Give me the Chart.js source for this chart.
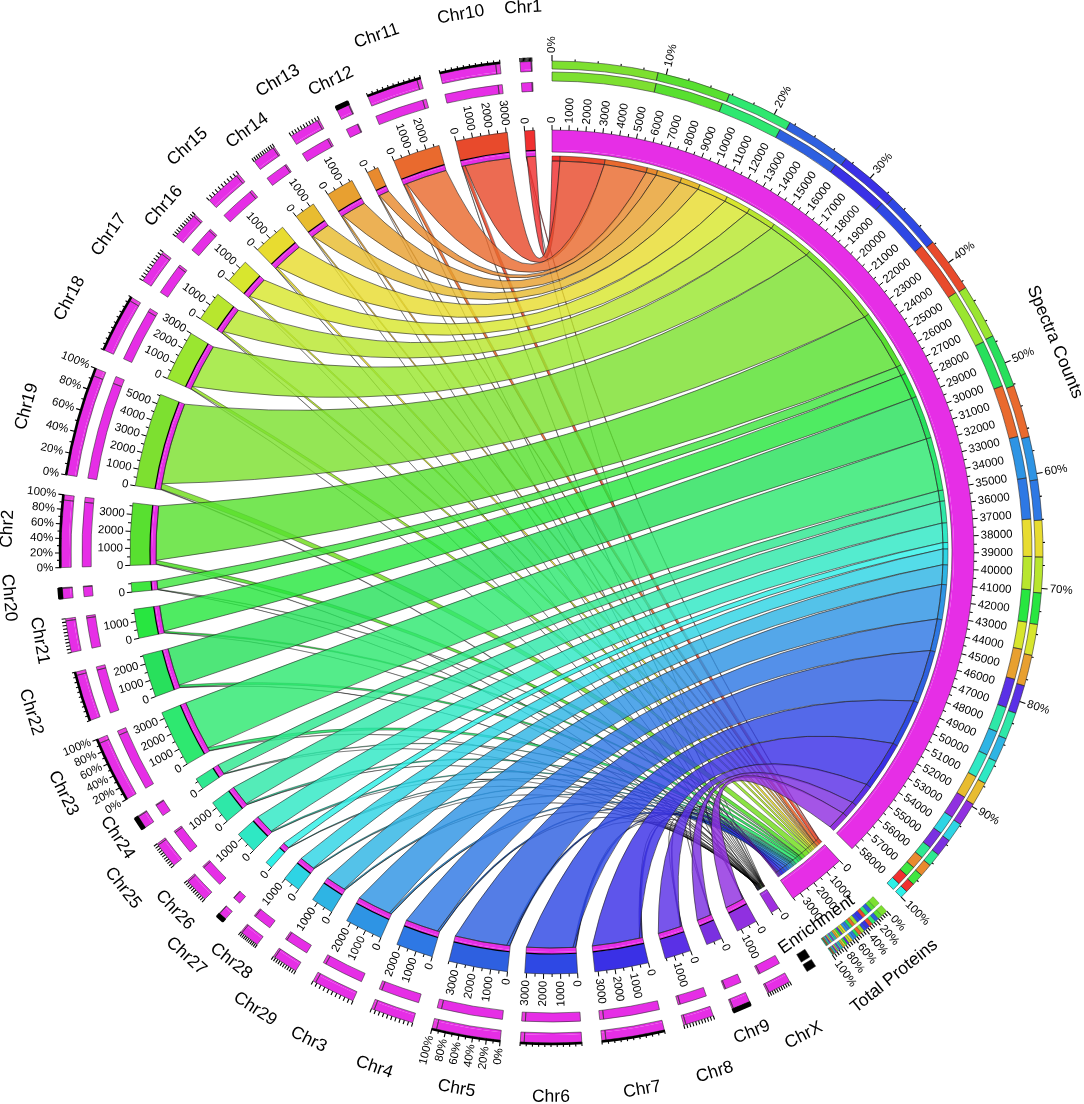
<!DOCTYPE html>
<html>
<head>
<meta charset="utf-8">
<title>Spectra counts by chromosome</title>
<script src="https://cdn.jsdelivr.net/npm/chart.js@4"></script>
<style>
  html, body { margin: 0; padding: 0; background: #fff; }
  canvas { display: block; }
</style>
</head>
<body>
<canvas id="chord-chart" width="1084" height="1104" style="width:1084px;height:1104px"></canvas>
<script>
// chromosomes, clockwise from the end of the Total Proteins / Enrichment sectors
var chromLabels = ['ChrX', 'Chr9', 'Chr8', 'Chr7', 'Chr6', 'Chr5', 'Chr4', 'Chr3', 'Chr29', 'Chr28',
    'Chr27', 'Chr26', 'Chr25', 'Chr24', 'Chr23', 'Chr22', 'Chr21', 'Chr20', 'Chr2', 'Chr19',
    'Chr18', 'Chr17', 'Chr16', 'Chr15', 'Chr14', 'Chr13', 'Chr12', 'Chr11', 'Chr10', 'Chr1'];
var chromSizes = [1250, 950, 1560, 3200, 3110, 3500, 2200, 2250, 1340, 1040,
    430, 1300, 1380, 690, 3370, 2550, 1730, 560, 3680, 5580,
    3000, 1770, 1470, 1990, 1250, 1640, 690, 2810, 3070, 600];
var spectraCounts = [1200, 900, 1450, 3100, 3000, 3370, 2050, 2210, 1250, 1000,
    400, 1240, 1380, 680, 3380, 2730, 1600, 610, 3770, 5400,
    2800, 1820, 1590, 1870, 1220, 1580, 660, 2700, 2830, 500];
var proteinCounts = [70, 60, 100, 180, 170, 200, 130, 130, 80, 60,
    25, 70, 80, 40, 200, 150, 100, 30, 230, 340,
    170, 110, 90, 120, 70, 90, 40, 170, 190, 35];
var enrichmentCounts = [10, 8, 14, 30, 28, 32, 18, 20, 10, 8,
    3, 10, 12, 5, 30, 24, 14, 4, 34, 50,
    22, 14, 12, 18, 10, 12, 4, 24, 28, 4];
var chromColors = ['#9030e0', '#7a30e0', '#5a30e6', '#3a30e6', '#2e48e4', '#2e60e0', '#2e78e4', '#2e94e4', '#2eb4e4', '#2ed4e4',
    '#2ef0e8', '#2ee8c4', '#2ee8a8', '#2ee890', '#2ee870', '#28e05c', '#28e640', '#40e640', '#58e030', '#7de030',
    '#9ae630', '#b8e62e', '#d8e62e', '#e8dc30', '#e8bc30', '#e8a030', '#e88a2e', '#e96a2e', '#e84a2c', '#f03030'];

var gapValue = 1016;
var percentLabelled = ['Chr19', 'Chr2', 'Chr23', 'Chr5'];
var thickRim = ['Chr5', 'Chr6', 'Chr7', 'Chr10', 'Chr11', 'Chr18', 'Chr19', 'Chr2', 'Chr23', 'Chr22'];
var solidRim = ['Chr9', 'Chr12', 'Chr20', 'Chr24', 'Chr27'];
var shortLabels = ['Chr9', 'Chr12', 'Chr14', 'Chr16', 'Chr21', 'Chr24', 'Chr26', 'Chr28'];

var MAGENTA = '#e62ee6';
var TAB = 'transparent';

function sum(list) {
    return list.reduce(function (a, b) { return a + b; }, 0);
}

var sectors = [
    { name: 'Spectra Counts', kind: 'spectra', size: sum(spectraCounts) },
    { name: 'Total Proteins', kind: 'proteins', size: sum(proteinCounts) },
    { name: 'Enrichment', kind: 'enrichment', size: sum(enrichmentCounts) }
];
chromLabels.forEach(function (name, i) {
    sectors.push({ name: name, kind: 'chrom', size: chromSizes[i], index: i });
});

// sector order on the target rings runs Chr1 first, ChrX last
function reversedPieces(values) {
    var pieces = [];
    for (var i = values.length - 1; i >= 0; i--) {
        pieces.push([values[i], chromColors[i]]);
    }
    return pieces;
}

// stacked percent rings are sorted biggest share first
function sortedOrder(values) {
    return values.map(function (v, i) { return i; }).sort(function (a, b) { return values[b] - values[a]; });
}

function stacked(order, values, size) {
    var total = 0;
    order.forEach(function (i) { total += values[i]; });
    return order.map(function (i) { return [values[i] * size / total, chromColors[i]]; });
}

function chromPieces(s) {
    var rest = proteinCounts[s.index] + enrichmentCounts[s.index];
    return [[s.size - rest, MAGENTA], [rest, '#ea3ce0']];
}

function percentPieces(s, outer) {
    if (s.kind === 'spectra') {
        return stacked(sortedOrder(spectraCounts), outer ? spectraCounts : chromSizes, s.size);
    }
    if (s.kind === 'proteins') {
        return stacked(sortedOrder(proteinCounts), outer ? proteinCounts : chromSizes, s.size);
    }
    if (s.kind === 'enrichment') {
        return [[s.size, '#000']];
    }
    return chromPieces(s);
}

function ring(weight, piecesFor) {
    var values = [], colors = [], owners = [];
    sectors.forEach(function (s, k) {
        piecesFor(s).forEach(function (p) {
            values.push(p[0]);
            colors.push(p[1]);
            owners.push(p[1] === TAB ? -1 : k);
        });
        values.push(gapValue);
        colors.push(TAB);
        owners.push(-1);
    });
    return { data: values, backgroundColor: colors, owners: owners, borderWidth: 0, weight: weight };
}

function blank(s) { return [[s.size, TAB]]; }

var datasets = [
    ring(8, function (s) { return percentPieces(s, true); }),                                    // 491-483
    ring(2, function (s) { return s.kind === 'chrom' ? chromPieces(s) : blank(s); }),            // 483-481
    ring(1, blank),                                                                              // 481-480
    ring(9, function (s) { return s.kind === 'chrom' ? blank(s) : percentPieces(s, false); }),   // 480-471
    ring(1, blank),                                                                              // 471-470
    ring(9, function (s) { return s.kind === 'chrom' ? chromPieces(s) : blank(s); }),            // 470-461
    ring(39, blank),                                                                             // 461-422
    ring(20, function (s) {                                                                      // 422-402
        if (s.kind === 'chrom') return [[s.size, chromColors[s.index]]];
        return [[s.size, s.kind === 'enrichment' ? '#a030e0' : MAGENTA]];
    }),
    ring(2, function (s) {                                                                       // 402-400
        return [[s.size, s.kind === 'enrichment' ? '#a030e0' : MAGENTA]];
    }),
    ring(4, function (s) { return s.kind === 'chrom' ? [[s.size, MAGENTA]] : blank(s); }),       // 400-396
    ring(5, function (s) {                                                                       // 396-391
        if (s.kind === 'spectra') return reversedPieces(spectraCounts);
        if (s.kind === 'proteins') return reversedPieces(proteinCounts);
        if (s.kind === 'enrichment') return reversedPieces(enrichmentCounts);
        return blank(s);
    })
];

var circosPlugin = {
    id: 'circos',
    afterDatasetsDraw: function (chart) {
        var ctx = chart.ctx;
        var band = chart.getDatasetMeta(7).data;
        var first = band[0];
        var cx = first.x, cy = first.y;
        var spans = sectors.map(function (s, k) {
            var arc = band[k * 2];
            return { start: arc.startAngle, end: arc.endAngle, s: s };
        });
        var rBandOuter = first.outerRadius;
        var rBandInner = first.innerRadius;
        var rRingIn = chart.getDatasetMeta(9).data[0].innerRadius;      // 396
        var rTarget = chart.getDatasetMeta(10).data[0].innerRadius;     // 391
        var rRim = chart.getDatasetMeta(0).data[0].outerRadius;         // 491

        function at(span, value) {
            return span.start + (span.end - span.start) * value / span.s.size;
        }

        function control(a, b, r) {
            return [cx + r * 0.25 * (Math.cos(a) + Math.cos(b)), cy + r * 0.25 * (Math.sin(a) + Math.sin(b))];
        }

        function ribbon(a0, a1, t0, t1, color, alpha, edge, width) {
            var c1 = control(a1, t0, rTarget), c2 = control(t1, a0, rTarget);
            ctx.beginPath();
            ctx.arc(cx, cy, rRingIn, a0, a1);
            ctx.quadraticCurveTo(c1[0], c1[1], cx + rTarget * Math.cos(t0), cy + rTarget * Math.sin(t0));
            ctx.arc(cx, cy, rTarget, t0, t1);
            ctx.quadraticCurveTo(c2[0], c2[1], cx + rRingIn * Math.cos(a0), cy + rRingIn * Math.sin(a0));
            ctx.closePath();
            ctx.globalAlpha = alpha;
            ctx.fillStyle = color;
            ctx.fill();
            ctx.globalAlpha = 1;
            ctx.strokeStyle = edge;
            ctx.lineWidth = width;
            ctx.stroke();
        }

        function outline(rIn, rOut, a0, a1, color, width) {
            ctx.beginPath();
            ctx.arc(cx, cy, rOut, a0, a1);
            ctx.arc(cx, cy, rIn, a1, a0, true);
            ctx.closePath();
            ctx.strokeStyle = color;
            ctx.lineWidth = width;
            ctx.stroke();
        }

        function radial(a, r0, r1, width) {
            ctx.beginPath();
            ctx.moveTo(cx + r0 * Math.cos(a), cy + r0 * Math.sin(a));
            ctx.lineTo(cx + r1 * Math.cos(a), cy + r1 * Math.sin(a));
            ctx.lineWidth = width;
            ctx.strokeStyle = '#000';
            ctx.stroke();
        }

        function radialText(text, a, r, flip) {
            ctx.save();
            ctx.translate(cx + r * Math.cos(a), cy + r * Math.sin(a));
            ctx.rotate(flip ? a + Math.PI : a);
            ctx.textAlign = flip ? 'right' : 'left';
            ctx.textBaseline = 'middle';
            ctx.fillText(text, 0, 0);
            ctx.restore();
        }

        // ribbons, thin ones first so the big ones lie over them
        var n = chromLabels.length;
        var spectraPos = 0, proteinPos = 0, enrichPos = 0;
        var links = [];
        for (var i = n - 1; i >= 0; i--) {
            links.push({
                i: i,
                span: spans[i + 3],
                spectra: [at(spans[0], spectraPos), at(spans[0], spectraPos + spectraCounts[i])],
                protein: [at(spans[1], proteinPos), at(spans[1], proteinPos + proteinCounts[i])],
                enrich: [at(spans[2], enrichPos), at(spans[2], enrichPos + enrichmentCounts[i])]
            });
            spectraPos += spectraCounts[i];
            proteinPos += proteinCounts[i];
            enrichPos += enrichmentCounts[i];
        }
        links.forEach(function (l) {
            var e = enrichmentCounts[l.i], p = proteinCounts[l.i];
            ribbon(at(l.span, e), at(l.span, e + p), l.protein[0], l.protein[1], chromColors[l.i], 0.9, 'rgba(0,0,0,0.65)', 0.55);
            ribbon(at(l.span, 0), at(l.span, e), l.enrich[0], l.enrich[1], '#000', 0.6, 'rgba(0,0,0,0.42)', 0.7);
        });
        links.forEach(function (l) {
            var skip = enrichmentCounts[l.i] + proteinCounts[l.i];
            ribbon(at(l.span, skip), at(l.span, l.span.s.size), l.spectra[0], l.spectra[1], chromColors[l.i], 0.82, 'rgba(30,30,30,0.75)', 0.8);
        });

        // outlines of the percent rings; the rainbow on Total Proteins gets a thinner line
        var outerMeta = chart.getDatasetMeta(1).data[0];
        [0, 3, 5].forEach(function (d) {
            var meta = chart.getDatasetMeta(d).data;
            var owners = datasets[d].owners;
            meta.forEach(function (arc, k) {
                if (owners[k] < 0) return;
                var kind = sectors[owners[k]].kind;
                var inner = arc.innerRadius;
                if (d === 0 && kind === 'chrom') inner = outerMeta.innerRadius;
                if (kind === 'proteins') {
                    outline(inner, arc.outerRadius, arc.startAngle, arc.endAngle, 'rgba(0,0,0,0.55)', 0.35);
                } else {
                    outline(inner, arc.outerRadius, arc.startAngle, arc.endAngle, 'rgba(40,40,40,0.8)', 0.7);
                }
            });
        });
        // stubs on the target sectors
        var stubMeta = chart.getDatasetMeta(10).data;
        stubMeta.forEach(function (arc, k) {
            if (datasets[10].owners[k] < 0) return;
            var thin = sectors[datasets[10].owners[k]].kind === 'proteins';
            outline(arc.innerRadius, arc.outerRadius, arc.startAngle, arc.endAngle, 'rgba(30,30,30,0.75)', thin ? 0.35 : 0.6);
        });

        ctx.fillStyle = '#000';
        ctx.font = '11.5px "Liberation Sans", Arial, sans-serif';

        spans.forEach(function (span) {
            var s = span.s;
            var mid = (span.start + span.end) / 2;
            var flip = Math.cos(mid) < 0.02;
            var isChrom = s.kind === 'chrom';

            // band outlines and count ticks
            outline(isChrom ? rRingIn : chart.getDatasetMeta(8).data[0].innerRadius, rBandOuter, span.start, span.end, 'rgba(40,40,40,0.8)', 0.7);
            if (isChrom) {
                ctx.beginPath();
                ctx.arc(cx, cy, rBandInner, span.start, span.end);
                ctx.strokeStyle = '#000';
                ctx.lineWidth = 1.2;
                ctx.stroke();
            }
            for (var v = 0; v <= s.size; v += 500) {
                var a = at(span, v);
                var major = v % 1000 === 0;
                radial(a, rBandOuter, rBandOuter + (major ? 5 : 3), 1);
                if (major) {
                    ctx.fillStyle = '#000';
                    radialText(String(v), a, rBandOuter + 7, flip);
                }
            }

            // percent rim
            var step = s.kind === 'spectra' ? 2 : (s.kind === 'proteins' ? 4 : 10);
            var labelled = s.kind !== 'chrom' || percentLabelled.indexOf(s.name) >= 0;
            if (s.kind !== 'enrichment') {
                for (var pct = 0; pct <= 100; pct += step) {
                    var pa = at(span, s.size * pct / 100);
                    var big = s.kind === 'spectra' ? pct % 10 === 0 : pct % 20 === 0;
                    var len = s.kind === 'spectra' ? (big ? 6 : 2) : (labelled && big ? 6 : 4);
                    radial(pa, rRim, rRim + len, 1.1);
                    if (big && labelled) {
                        radialText(pct + '%', pa, rRim + 8, flip);
                    }
                }
            }
            if (thickRim.indexOf(s.name) >= 0) {
                ctx.beginPath();
                ctx.arc(cx, cy, rRim + 1, span.start, span.end);
                ctx.strokeStyle = '#000';
                ctx.lineWidth = 2.5;
                ctx.stroke();
            }
            if (solidRim.indexOf(s.name) >= 0) {
                ctx.beginPath();
                ctx.arc(cx, cy, rRim + 2.5, span.start, span.end);
                ctx.strokeStyle = '#000';
                ctx.lineWidth = 5;
                ctx.stroke();
            }

            // sector name
            var labelAngle = mid, labelRadius = shortLabels.indexOf(s.name) >= 0 ? 520 : 545;
            if (s.kind === 'enrichment') {
                labelAngle = mid - 3.5 * Math.PI / 180;
                labelRadius = 457;
            }
            ctx.save();
            ctx.translate(cx + labelRadius * Math.cos(labelAngle), cy + labelRadius * Math.sin(labelAngle));
            ctx.rotate(Math.sin(labelAngle) > 0 ? labelAngle - Math.PI / 2 : labelAngle + Math.PI / 2);
            ctx.font = '17.5px "Liberation Sans", Arial, sans-serif';
            ctx.textAlign = 'center';
            ctx.textBaseline = 'middle';
            ctx.fillStyle = '#000';
            ctx.fillText(s.name, 0, 0);
            ctx.restore();
        });
    }
};

new Chart(document.getElementById('chord-chart'), {
    type: 'doughnut',
    data: { datasets: datasets },
    options: {
        responsive: false,
        animation: false,
        devicePixelRatio: 1,
        cutout: 391,
        rotation: 0,
        events: [],
        layout: { padding: { left: 61, right: 41, top: 61, bottom: 61 } },
        plugins: { legend: { display: false }, tooltip: { enabled: false } }
    },
    plugins: [circosPlugin]
});
</script>
</body>
</html>
